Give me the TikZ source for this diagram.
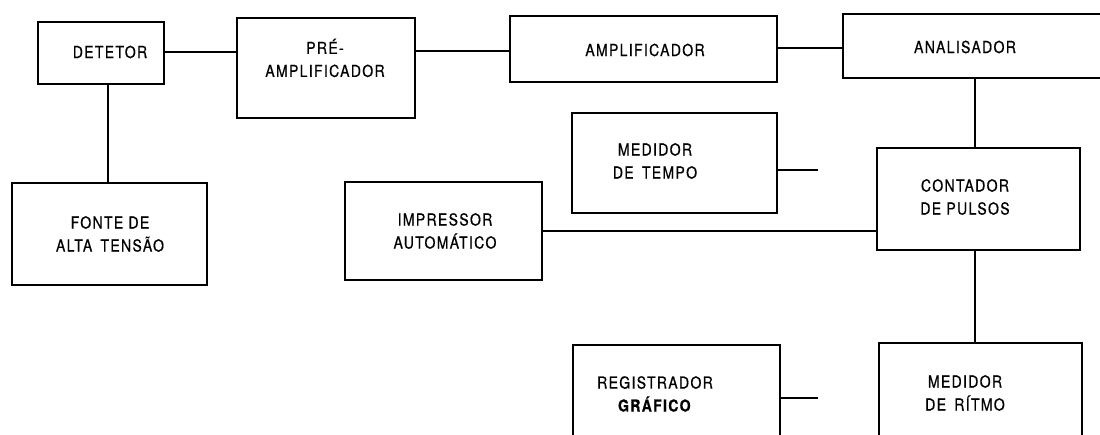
\documentclass[tikz,border=0pt]{standalone}
\usepackage{fontspec}
\setmainfont[LetterSpace=8,FakeStretch=0.85,FakeBold=0.6]{TeX Gyre Heros}
\begin{document}
\begin{tikzpicture}[x=1pt,y=-1pt,
  box/.style={draw=black, line width=2.4pt, inner sep=0pt, outer sep=0pt},
  conn/.style={draw=black, line width=1.8pt},
  lbl/.style={font=\fontsize{16.5}{23}\selectfont, align=center, inner sep=0pt, text=black}]
\useasboundingbox[fill=white] (0,0) rectangle (1100,435);
% boxes (corners in pixels)
\node[box, minimum width=126pt, minimum height=62pt]  (det)   at (101,53) {};
\node[box, minimum width=178pt, minimum height=100pt] (pre)   at (326,68) {};
\node[box, minimum width=267pt, minimum height=66pt]  (amp)   at (643.5,49) {};
\node[box, minimum width=267pt, minimum height=64pt]  (ana)   at (976.5,46) {};
\node[box, minimum width=205pt, minimum height=100pt] (tempo) at (674.5,163) {};
\node[box, minimum width=203pt, minimum height=102pt] (cont)  at (978.5,199) {};
\node[box, minimum width=195pt, minimum height=102pt] (fonte) at (109.5,234) {};
\node[box, minimum width=197pt, minimum height=98pt]  (impr)  at (443.5,231) {};
\node[box, minimum width=207pt, minimum height=100pt] (reg)   at (676.5,395) {};
\node[box, minimum width=203pt, minimum height=102pt] (rit)   at (980.5,394) {};
% labels
\node[lbl] (tdet)   at (110,52)  {DETETOR};
\node[lbl] (tpre)   at (325,58)  {PRÉ-\\AMPLIFICADOR};
\node[lbl] (tamp)   at (645,50)  {AMPLIFICADOR};
\node[lbl] (tana)   at (965,47)  {ANALISADOR};
\node[lbl] (ttempo) at (655,161) {MEDIDOR\\DE\enspace TEMPO};
\node[lbl] (tcont)  at (965,197) {CONTADOR\\DE PULSOS};
\node[lbl] (tfonte) at (110,234) {FONTE DE\\ALTA\enspace TENSÃO};
\node[lbl] (timpr)  at (445,231) {IMPRESSOR\\AUTOMÁTICO};
\node[lbl] (treg)   at (655,394) {REGISTRADOR\\\textbf{GRÁFICO}};
\node[lbl] (trit)   at (965,393) {MEDIDOR\\DE\enspace RÍTMO};
% free ends of faded stubs
\coordinate (stubA) at (818,170);
\coordinate (stubB) at (818,398);
% connectors
\draw[conn] (det.east |- 0,52) -- (pre.west |- 0,52);
\draw[conn] (pre.east |- 0,51) -- (amp.west |- 0,51);
\draw[conn] (amp.east |- 0,48) -- (ana.west |- 0,48);
\draw[conn] (det.south -| 108,0) -- (fonte.north -| 108,0);
\draw[conn] (ana.south -| 975,0) -- (cont.north -| 975,0);
\draw[conn] (cont.south -| 975,0) -- (rit.north -| 975,0);
\draw[conn] (impr.east |- 0,231) -- (cont.west |- 0,231);
\draw[conn] (tempo.east |- stubA) -- (stubA);
\draw[conn] (reg.east |- stubB) -- (stubB);
\end{tikzpicture}
\end{document}
